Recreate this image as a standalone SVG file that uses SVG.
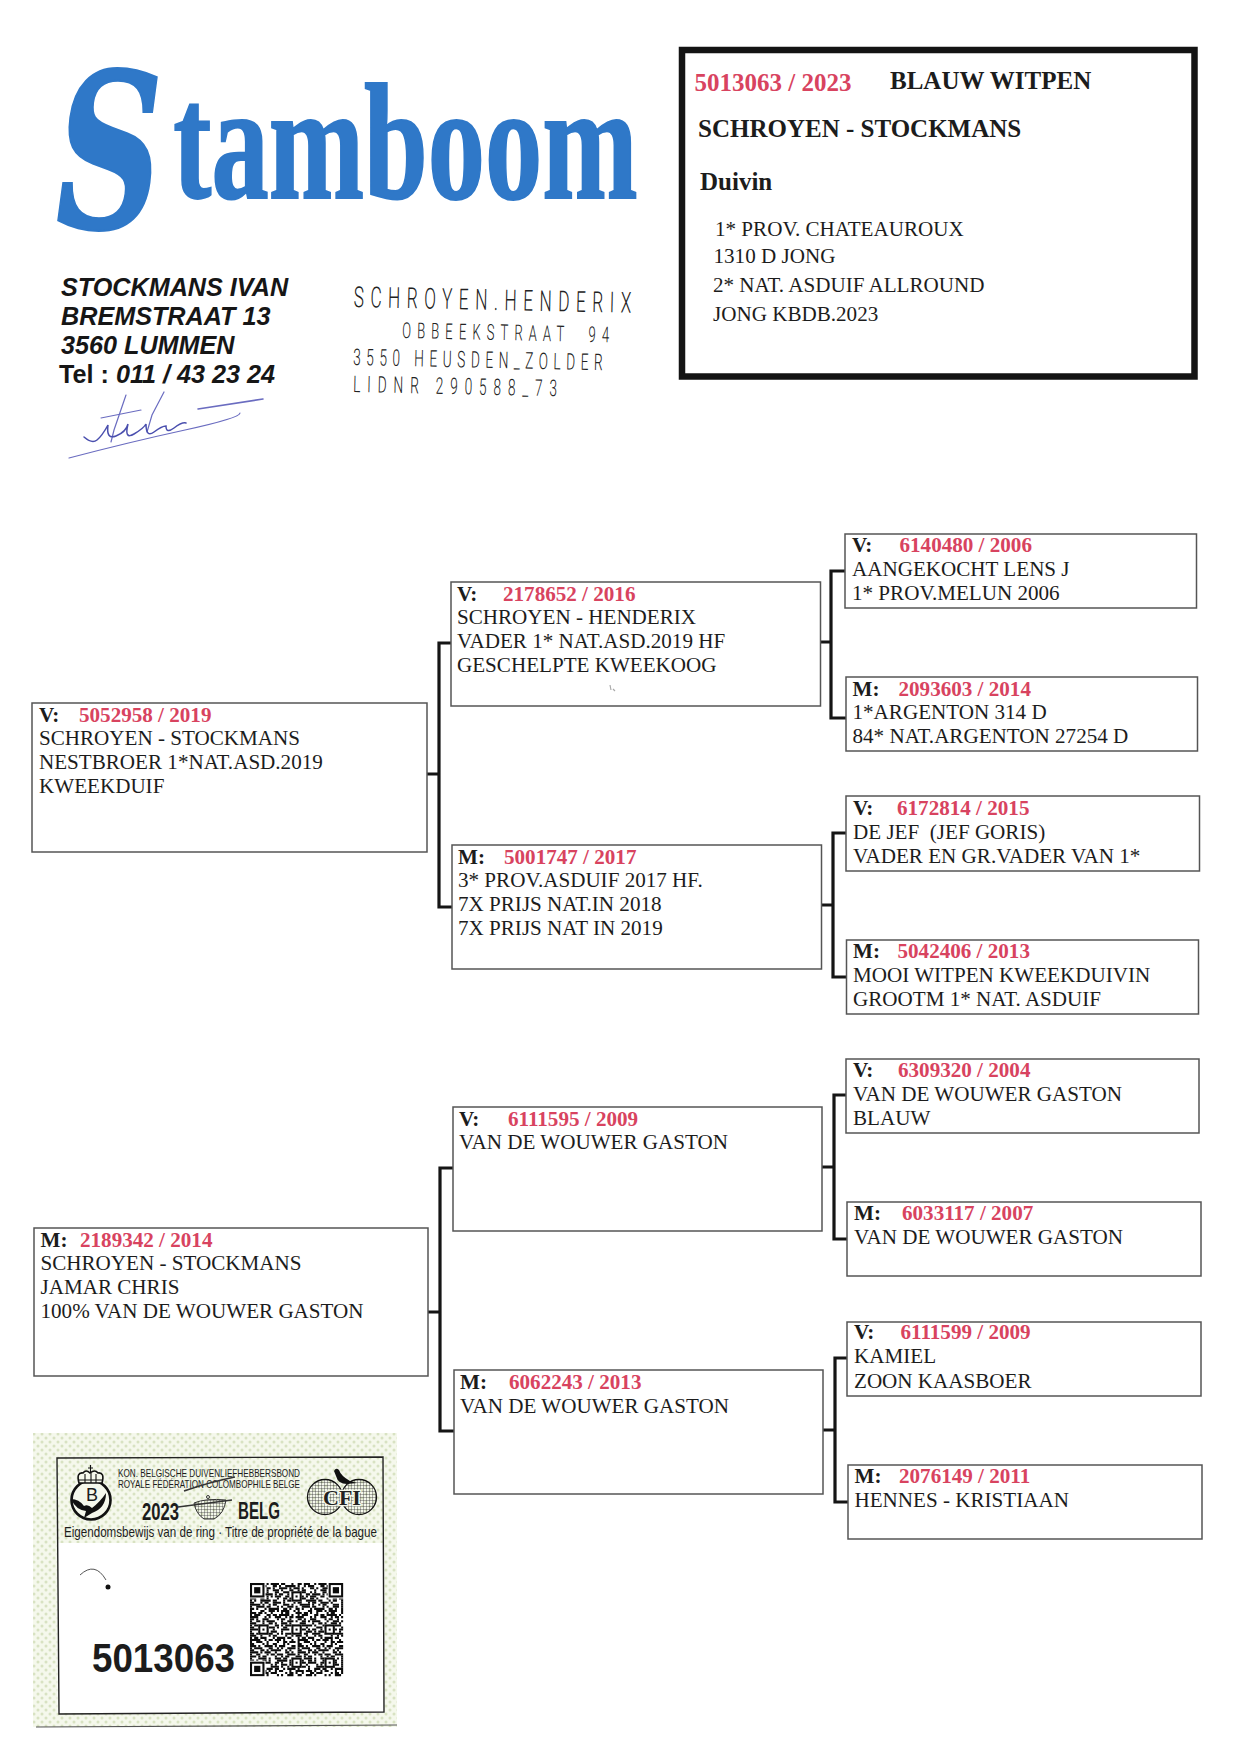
<svg xmlns="http://www.w3.org/2000/svg" width="1239" height="1752" viewBox="0 0 1239 1752">
<style>
text{white-space:pre}
.s{font-family:"Liberation Serif","Times New Roman",serif;font-size:21.1px;fill:#1c1c1c}
.b{font-weight:700}
.r{fill:#d8435f;font-weight:700}
.box{fill:#fff;stroke:#555;stroke-width:1.5}
.c{fill:none;stroke:#151515;stroke-width:3.2}
.t{font-size:25px;font-weight:700}
.a{font-family:"Liberation Sans",Arial,sans-serif;font-size:25.2px;font-weight:700;font-style:italic;fill:#161616}
.st{font-family:Roboto,"Liberation Sans",sans-serif;font-weight:300;fill:#222}
.cs{font-family:"Liberation Sans",Arial,sans-serif;fill:#1c1c1c}
.sig{fill:none;stroke:#6a6cc0;stroke-width:1.2;stroke-linecap:round}
.q path{fill:none;stroke:#0c0c0c;stroke-width:1}
</style>
<defs>
<pattern id="dots" width="8" height="8" patternUnits="userSpaceOnUse"><rect width="8" height="8" fill="#f5f8ec"/><circle cx="2" cy="2" r="1.5" fill="#d8e2c2"/><circle cx="6" cy="6" r="1.5" fill="#d8e2c2"/></pattern>
<pattern id="grid" width="3" height="3" patternUnits="userSpaceOnUse"><path d="M0 0H3M0 0V3" stroke="#222" stroke-width=".7" fill="none"/></pattern>
<g id="align"><rect x="-2.5" y="-2.5" width="5" height="5" fill="#fff"/><rect x="-2" y="-2" width="4" height="4" fill="none" stroke="#0c0c0c"/><rect x="-.5" y="-.5" width="1" height="1" fill="#0c0c0c"/></g>
<g id="finder"><rect x="-.5" y="-.5" width="8" height="8" fill="#fff"/><rect x=".5" y=".5" width="6" height="6" fill="#fff" stroke="#0c0c0c"/><rect x="2" y="2" width="3" height="3" fill="#0c0c0c"/></g>
</defs>
<rect width="1239" height="1752" fill="#fff"/>

<g id="logo"><text transform="translate(56 198) scale(.69 1)" font-family="Liberation Serif, serif" font-weight="700" font-size="166" fill="#2f78c8" stroke="#2f78c8" stroke-width="2"><tspan font-family="DejaVu Serif, serif" font-size="215" font-style="italic" dy="30">S</tspan><tspan x="170" dy="-30">tamboom</tspan></text></g>

<g id="address" class="a">
<text class="a" x="61" y="296">STOCKMANS IVAN</text>
<text class="a" x="61" y="325">BREMSTRAAT 13</text>
<text class="a" x="61" y="354">3560 LUMMEN</text>
<text class="a" x="59" y="383"><tspan font-style="normal">Tel : </tspan>011 / 43 23 24</text>
</g>

<g id="stamp">
<text class="st" font-size="29" textLength="463" lengthAdjust="spacing" transform="translate(353.5 307) rotate(1.2) scale(.6 1)">SCHROYEN.HENDERIX</text>
<text class="st" font-size="22" textLength="345" lengthAdjust="spacing" transform="translate(402 338) rotate(1.2) scale(.6 1)">OBBEEKSTRAAT  94</text>
<text class="st" font-size="23" textLength="416" lengthAdjust="spacing" transform="translate(353 365) rotate(1.2) scale(.6 1)">3550 HEUSDEN_ZOLDER</text>
<text class="st" font-size="23" textLength="340" lengthAdjust="spacing" transform="translate(353 392) rotate(1.2) scale(.6 1)">LIDNR 290588_73</text>
</g>

<g id="signature" class="sig">
<path d="M69 458Q130 442 185 430T240 413"/><path d="M198 409L263 399" stroke-width="1.6"/><path d="M101 418L141 410"/><path d="M126 395L114 430 111 442"/><path d="M164 392L152 415 147 432"/>
<path d="M84 437Q92 444 97 440T108 425Q106 440 116 436T128 424Q124 440 134 434T146 424Q146 438 154 432T166 426Q166 434 174 428T186 423" stroke="#4a4fae" stroke-width="1.5"/>
</g>

<g id="title-box">
<rect x="682" y="50" width="512.5" height="326.5" fill="#fff" stroke="#141414" stroke-width="6.5"/>
<text class="s t r" x="694.5" y="91">5013063 / 2023</text>
<text class="s t" x="890" y="89">BLAUW WITPEN</text>
<text class="s t" x="698" y="137">SCHROYEN - STOCKMANS</text>
<text class="s t" x="700" y="190">Duivin</text>
<text class="s" x="715" y="236">1* PROV. CHATEAUROUX</text>
<text class="s" x="713.5" y="263">1310 D JONG</text>
<text class="s" x="713" y="292">2* NAT. ASDUIF ALLROUND</text>
<text class="s" x="713" y="321">JONG KBDB.2023</text>
</g>

<g id="connectors" class="c">
<path class="c" d="M427 774H439M451 643H439V907H452"/>
<path class="c" d="M428 1312H440M453 1168H440V1431H454"/>
<path class="c" d="M820.5 642H831M845 571H831V718H846"/>
<path class="c" d="M821.5 905H833M846 833H833V977H847"/>
<path class="c" d="M822 1167H834M846 1095H834V1239H847"/>
<path class="c" d="M823 1430H835M847 1358H835V1502H848"/>
</g>

<g id="n5052958"><rect class="box" x="32" y="703" width="395" height="149"/>
<text class="s b" x="39" y="722">V:</text><text class="s r" x="79" y="722">5052958 / 2019</text>
<text class="s" x="39" y="745">SCHROYEN - STOCKMANS</text><text class="s" x="39" y="769">NESTBROER 1*NAT.ASD.2019</text><text class="s" x="39" y="793">KWEEKDUIF</text></g>

<g id="n2189342"><rect class="box" x="34" y="1228" width="394" height="148"/>
<text class="s b" x="40.5" y="1247">M:</text><text class="s r" x="80" y="1247">2189342 / 2014</text>
<text class="s" x="40.5" y="1270">SCHROYEN - STOCKMANS</text><text class="s" x="40.5" y="1294">JAMAR CHRIS</text><text class="s" x="40.5" y="1318">100% VAN DE WOUWER GASTON</text></g>

<g id="n2178652"><rect class="box" x="451" y="582" width="369.5" height="124"/>
<text class="s b" x="457" y="601">V:</text><text class="s r" x="503" y="601">2178652 / 2016</text>
<text class="s" x="457" y="624">SCHROYEN - HENDERIX</text><text class="s" x="457" y="648">VADER 1* NAT.ASD.2019 HF</text><text class="s" x="457" y="672">GESCHELPTE KWEEKOOG</text>
<path d="M610 685l1 5M613 689l2 2" stroke="#aaa" stroke-width="1.2" fill="none"/></g>

<g id="n5001747"><rect class="box" x="452" y="845" width="369.5" height="124"/>
<text class="s b" x="458" y="864">M:</text><text class="s r" x="504" y="864">5001747 / 2017</text>
<text class="s" x="458" y="887">3* PROV.ASDUIF 2017 HF.</text><text class="s" x="458" y="911">7X PRIJS NAT.IN 2018</text><text class="s" x="458" y="935">7X PRIJS NAT IN 2019</text></g>

<g id="n6111595"><rect class="box" x="453" y="1107" width="369" height="124"/>
<text class="s b" x="459" y="1126">V:</text><text class="s r" x="508" y="1126">6111595 / 2009</text>
<text class="s" x="459" y="1149">VAN DE WOUWER GASTON</text></g>

<g id="n6062243"><rect class="box" x="454" y="1370" width="369" height="124"/>
<text class="s b" x="460" y="1389">M:</text><text class="s r" x="509" y="1389">6062243 / 2013</text>
<text class="s" x="460" y="1413">VAN DE WOUWER GASTON</text></g>

<g id="n6140480"><rect class="box" x="845" y="534" width="351.5" height="74"/>
<text class="s b" x="852" y="552">V:</text><text class="s r" x="899.5" y="552">6140480 / 2006</text>
<text class="s" x="852" y="576">AANGEKOCHT LENS J</text><text class="s" x="852" y="600">1* PROV.MELUN 2006</text></g>

<g id="n2093603"><rect class="box" x="846" y="677" width="351.5" height="74"/>
<text class="s b" x="852.5" y="696">M:</text><text class="s r" x="898.5" y="696">2093603 / 2014</text>
<text class="s" x="852.5" y="719">1*ARGENTON 314 D</text><text class="s" x="852.5" y="743">84* NAT.ARGENTON 27254 D</text></g>

<g id="n6172814"><rect class="box" x="846" y="796" width="353.5" height="75"/>
<text class="s b" x="853" y="815">V:</text><text class="s r" x="897" y="815">6172814 / 2015</text>
<text class="s" x="853" y="839">DE JEF  (JEF GORIS)</text><text class="s" x="853" y="863">VADER EN GR.VADER VAN 1*</text></g>

<g id="n5042406"><rect class="box" x="846.5" y="940" width="352" height="74"/>
<text class="s b" x="853" y="958">M:</text><text class="s r" x="897.5" y="958">5042406 / 2013</text>
<text class="s" x="853" y="982">MOOI WITPEN KWEEKDUIVIN</text><text class="s" x="853" y="1006">GROOTM 1* NAT. ASDUIF</text></g>

<g id="n6309320"><rect class="box" x="846" y="1059" width="353" height="74"/>
<text class="s b" x="853" y="1077">V:</text><text class="s r" x="898" y="1077">6309320 / 2004</text>
<text class="s" x="853" y="1101">VAN DE WOUWER GASTON</text><text class="s" x="853" y="1125">BLAUW</text></g>

<g id="n6033117"><rect class="box" x="847" y="1202" width="354" height="74"/>
<text class="s b" x="854" y="1220">M:</text><text class="s r" x="902" y="1220">6033117 / 2007</text>
<text class="s" x="854" y="1244">VAN DE WOUWER GASTON</text></g>

<g id="n6111599"><rect class="box" x="847" y="1322" width="354" height="74"/>
<text class="s b" x="854" y="1339">V:</text><text class="s r" x="900.5" y="1339">6111599 / 2009</text>
<text class="s" x="854" y="1363">KAMIEL</text><text class="s" x="854" y="1388">ZOON KAASBOER</text></g>

<g id="n2076149"><rect class="box" x="848" y="1465" width="354" height="74"/>
<text class="s b" x="854.5" y="1483">M:</text><text class="s r" x="899" y="1483">2076149 / 2011</text>
<text class="s" x="854.5" y="1507">HENNES - KRISTIAAN</text></g>

<g id="ring-card">
<rect x="33" y="1433" width="364" height="294" fill="url(#dots)"/>
<path d="M36 1727L397 1725" stroke="#555" stroke-width="1.2" fill="none"/>
<rect x="57.5" y="1543" width="326" height="170" fill="#fff"/>
<path d="M57 1458L383 1457 384 1712 59 1714Z" fill="none" stroke="#222" stroke-width="1.4"/>
<g id="emblem-b">
<circle cx="91" cy="1500" r="19.5" fill="#f5f8ec" stroke="#111" stroke-width="2.6"/>
<path d="M79 1483Q76 1472 83 1473 86 1469 90 1473 95 1469 98 1473 105 1472 102 1483Z" fill="#f5f8ec" stroke="#111" stroke-width="1.6"/>
<path d="M79 1480H102M85 1474V1483M91 1473V1483M96 1474V1483M90.5 1465V1472M88 1468H93" stroke="#111" stroke-width="1.1" fill="none"/>
<text class="cs" x="92" y="1501" font-size="18" text-anchor="middle">B</text>
<path d="M71 1499Q79 1499 84 1506 88 1504 92 1508 100 1502 106 1493 106 1508 92 1513L84 1518 86 1511Q76 1510 71 1499Z" fill="#111"/>
</g>
<g id="emblem-fci">
<circle cx="325" cy="1497" r="17.5" fill="url(#grid)" stroke="#111" stroke-width="1.3"/>
<circle cx="359" cy="1497" r="17.5" fill="url(#grid)" stroke="#111" stroke-width="1.3"/>
<path d="M334 1471Q336 1467 339 1470 341 1476 350 1481L357 1483 347 1484Q338 1484 336 1476Z" fill="#111"/>
<text font-family="Liberation Serif,serif" font-weight="700" font-size="22" x="342" y="1505" text-anchor="middle" fill="#222" stroke="#f5f8ec" stroke-width="2.5" paint-order="stroke">CFI</text>
</g>
<text class="cs" font-size="10.5" x="118" y="1477" textLength="182" lengthAdjust="spacingAndGlyphs">KON. BELGISCHE DUIVENLIEFHEBBERSBOND</text>
<text class="cs" font-size="10.5" x="118" y="1488" textLength="182" lengthAdjust="spacingAndGlyphs">ROYALE FÉDÉRATION COLOMBOPHILE BELGE</text>
<g id="nest">
<path d="M194 1503Q206 1498 226 1500 224 1514 214 1519H204Q196 1514 194 1503Z" fill="url(#grid)" stroke="#333" stroke-width="1"/>
<path d="M178 1507L232 1500M184 1491Q210 1482 235 1477" stroke="#333" stroke-width="1.5" fill="none"/>
<circle cx="208" cy="1497" r="1.5" fill="none" stroke="#333"/>
</g>
<text class="cs b" font-size="23.5" x="142" y="1520" textLength="37" lengthAdjust="spacingAndGlyphs">2023</text>
<text class="cs b" font-size="23.5" x="238" y="1519" textLength="42" lengthAdjust="spacingAndGlyphs">BELG</text>
<text class="cs" font-size="14.5" x="64" y="1537" textLength="313" lengthAdjust="spacingAndGlyphs">Eigendomsbewijs van de ring · Titre de propriété de la bague</text>
<path d="M80 1575Q95 1561 106 1580" fill="none" stroke="#555" stroke-width="1"/>
<circle cx="108" cy="1587" r="2.5" fill="#111"/>
<text class="cs b" font-size="40" x="92" y="1672" fill="#111" textLength="143" lengthAdjust="spacingAndGlyphs">5013063</text>
<g id="qr" class="q" transform="translate(250 1583) scale(2.07)">
<path d="M0 .5h45" stroke-dasharray="2 1 3 2 1 1 4 1 2 3 1 2"/>
<path d="M0 1.5h45" stroke-dasharray="1 2 1 1 3 3 2 1 1 2 5 1"/>
<path d="M0 2.5h45" stroke-dasharray="3 1 1 3 2 1 1 2 4 1 1 1"/>
<path d="M0 3.5h45" stroke-dasharray="1 1 2 4 1 2 3 1 1 3 2 2"/>
<path d="M0 4.5h45" stroke-dasharray="4 2 1 1 1 3 2 2 3 1 1 2"/>
<path d="M0 5.5h45" stroke-dasharray="1 3 2 1 4 1 1 1 2 2 1 4"/>
<path d="M0 6.5h45" stroke-dasharray="2 2 1 1 1 1 1 1 1 1 3 2"/>
<path d="M0 7.5h45" stroke-dasharray="3 2 2 1 1 4 1 2 2 1 4 1"/>
<path d="M0 8.5h45" stroke-dasharray="1 1 1 2 5 1 2 3 1 1 2 2"/>
<path d="M0 9.5h45" stroke-dasharray="2 3 1 1 2 2 4 1 1 4 1 1"/>
<path d="M0 10.5h45" stroke-dasharray="5 1 1 2 1 1 2 3 3 1 1 3"/>
<path d="M0 11.5h45" stroke-dasharray="1 2 4 1 2 3 1 1 1 2 3 1"/>
<path d="M0 12.5h45" stroke-dasharray="2 1 1 3 1 1 5 2 2 1 1 2"/>
<path d="M0 13.5h45" stroke-dasharray="1 4 2 2 3 1 1 1 4 2 1 1"/>
<path d="M0 14.5h45" stroke-dasharray="3 1 2 1 1 2 1 4 1 1 2 3"/>
<path d="M0 15.5h45" stroke-dasharray="1 1 3 3 2 1 2 1 5 1 1 2"/>
<path d="M0 16.5h45" stroke-dasharray="4 3 1 1 1 2 3 2 1 1 2 1"/>
<path d="M0 17.5h45" stroke-dasharray="2 1 1 2 3 4 1 1 2 2 1 3"/>
<path d="M0 18.5h45" stroke-dasharray="1 2 2 1 1 1 4 3 1 2 3 1"/>
<path d="M0 19.5h45" stroke-dasharray="3 3 1 2 2 1 1 2 3 1 1 4"/>
<path d="M0 20.5h45" stroke-dasharray="1 1 5 1 1 3 2 1 1 1 4 2"/>
<path d="M0 21.5h45" stroke-dasharray="2 2 1 4 3 1 1 2 2 3 1 1"/>
<path d="M0 22.5h45" stroke-dasharray="4 1 1 1 2 2 1 3 4 1 2 1"/>
<path d="M0 23.5h45" stroke-dasharray="1 3 3 1 1 1 3 2 1 4 1 2"/>
<path d="M0 24.5h45" stroke-dasharray="2 1 2 2 4 2 1 1 1 1 5 1"/>
<path d="M0 25.5h45" stroke-dasharray="3 2 1 3 1 1 2 4 1 2 1 1"/>
<path d="M0 26.5h45" stroke-dasharray="1 1 2 1 3 3 1 1 4 1 2 3"/>
<path d="M0 27.5h45" stroke-dasharray="5 2 1 1 2 1 3 1 1 3 1 2"/>
<path d="M0 28.5h45" stroke-dasharray="1 2 3 2 1 4 1 2 2 1 3 1"/>
<path d="M0 29.5h45" stroke-dasharray="2 4 1 1 1 2 2 3 1 1 1 4"/>
<path d="M0 30.5h45" stroke-dasharray="3 1 1 2 4 1 1 1 3 3 2 1"/>
<path d="M0 31.5h45" stroke-dasharray="1 1 4 3 2 2 1 1 1 2 4 1"/>
<path d="M0 32.5h45" stroke-dasharray="2 3 2 1 1 1 5 2 1 1 1 3"/>
<path d="M0 33.5h45" stroke-dasharray="4 1 1 1 3 2 1 4 2 1 1 2"/>
<path d="M0 34.5h45" stroke-dasharray="1 2 2 3 1 1 2 1 3 2 4 1"/>
<path d="M0 35.5h45" stroke-dasharray="3 1 1 1 2 4 1 2 1 1 2 3"/>
<path d="M0 36.5h45" stroke-dasharray="1 3 4 1 1 2 3 1 2 2 1 1"/>
<path d="M0 37.5h45" stroke-dasharray="2 1 1 2 2 1 1 3 5 1 1 2"/>
<path d="M0 38.5h45" stroke-dasharray="1 1 3 1 4 2 2 1 1 3 1 2"/>
<path d="M0 39.5h45" stroke-dasharray="3 2 1 4 1 1 1 2 3 1 2 1"/>
<path d="M0 40.5h45" stroke-dasharray="2 1 2 1 1 3 4 1 1 2 1 3"/>
<path d="M0 41.5h45" stroke-dasharray="1 4 1 2 3 1 2 2 1 1 4 1"/>
<path d="M0 42.5h45" stroke-dasharray="4 1 3 1 1 2 1 1 2 3 1 2"/>
<path d="M0 43.5h45" stroke-dasharray="1 2 1 3 2 1 3 4 1 1 2 1"/>
<path d="M0 44.5h45" stroke-dasharray="2 2 3 1 1 4 1 1 1 2 3 2"/>
<use href="#finder"/><use href="#finder" x="38"/><use href="#finder" y="38"/>
<use href="#align" x="22.5" y="6.5"/><use href="#align" x="6.5" y="22.5"/><use href="#align" x="22.5" y="22.5"/><use href="#align" x="38.5" y="22.5"/><use href="#align" x="22.5" y="38.5"/><use href="#align" x="38.5" y="38.5"/>
</g>
</g>
</svg>
